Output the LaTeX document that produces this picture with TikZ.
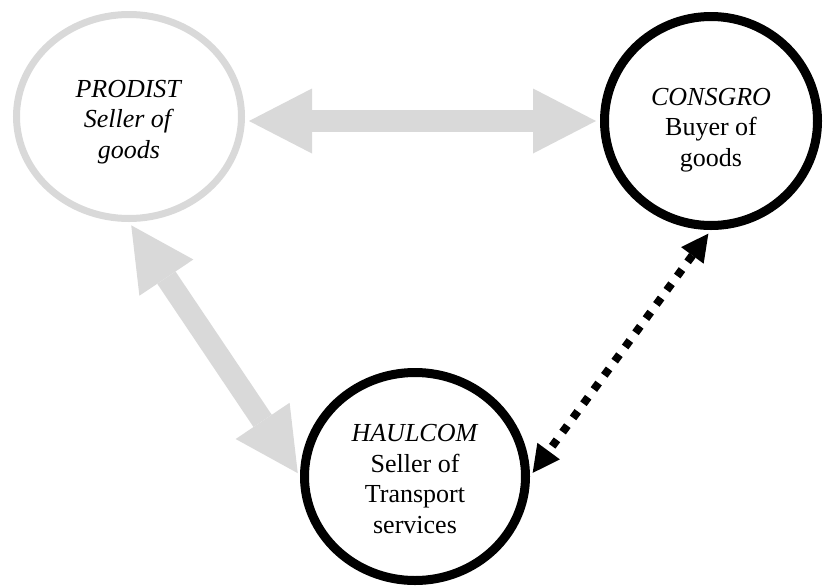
\documentclass[tikz,border=0pt]{standalone}
\usepackage{fontspec}
\setmainfont{Liberation Serif}
\usetikzlibrary{arrows.meta,shapes.geometric}
\definecolor{palegray}{RGB}{217,217,217}
\tikzset{
  party/.style={ellipse,draw,inner sep=0pt,align=center,font=\rmfamily\fontsize{26}{30.5}\selectfont},
  faded/.style={party,draw=palegray,line width=7pt},
  active/.style={party,draw=black,line width=9pt},
  flow/.style={draw=palegray,line width=22pt,{Triangle[length=63pt,width=65pt,line width=0pt]}-{Triangle[length=63pt,width=65pt,line width=0pt]},shorten <=4pt,shorten >=4pt},
  transport/.style={draw=black,line width=8pt,dash pattern=on 8pt off 9.6pt,{Triangle[length=27pt,width=28pt,line width=0pt]}-{Triangle[length=27pt,width=28pt,line width=0pt]},shorten <=4.5pt,shorten >=4.5pt}
}
\begin{document}
\begin{tikzpicture}[x=1pt,y=-1pt]
      \useasboundingbox (0,0) rectangle (824,587);
      \node[faded,minimum width=225pt,minimum height=204pt](prodist) at (129,116.5){\rule{0pt}{28pt}\textit{PRODIST}\\\textit{Seller of}\\\textit{goods}};
      \node[active,minimum width=213pt,minimum height=209pt](consgro) at (711,121){\rule{0pt}{35pt}\textit{CONSGRO}\\Buyer of\\goods};
      \node[active,minimum width=221pt,minimum height=208pt](haulcom) at (415,476.5){\rule{0pt}{22pt}\textit{HAULCOM}\\Seller of\\Transport\\services};
      \draw[flow](prodist.east |- consgro.west)--(consgro.west);
      \draw[flow](prodist.south)--(haulcom.west);
      \draw[transport](consgro.south)--(haulcom.east);
    \end{tikzpicture}
\end{document}
